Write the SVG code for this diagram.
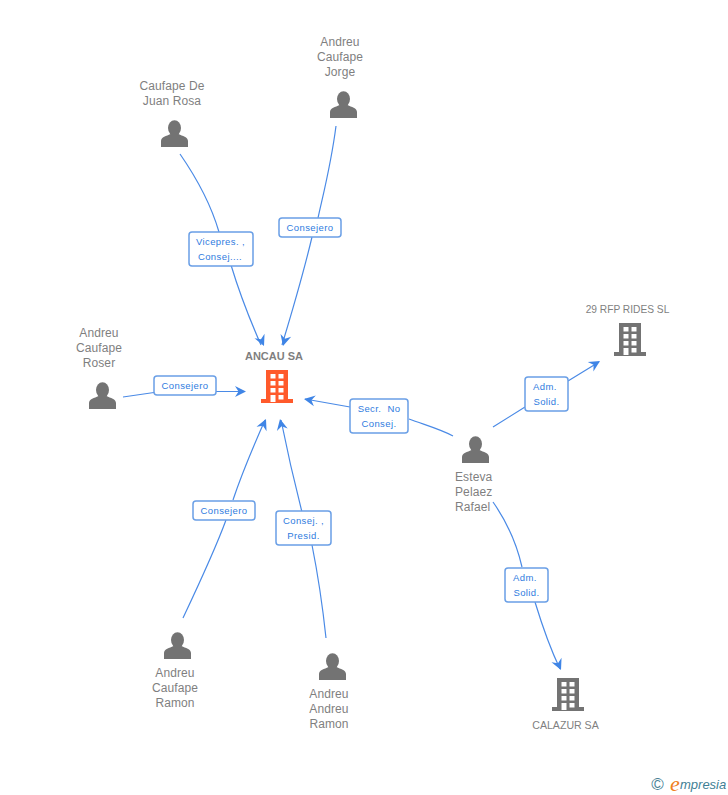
<svg xmlns="http://www.w3.org/2000/svg" width="728" height="795" viewBox="0 0 728 795">
<style>
text{font-family:"Liberation Sans",Arial,sans-serif}
.n{font-size:12px;fill:#7f7f7f;text-anchor:middle;letter-spacing:.1px}
.l{font-size:9.5px;fill:#2f7be0;text-anchor:middle;letter-spacing:.4px}
.b{fill:#fff;stroke:#6a9fe6;stroke-width:1.5}
.c{fill:none;stroke:#4a8ae6;stroke-width:1.2}
.a{fill:#3f85e6}
.g{fill:#737373}
</style>
<defs>
<g id="person"><ellipse cx="0" cy="-6" rx="6.500" ry="7.800"/><path d="M-13.500 13V7C-13.500 3-8 2-4 0V-3H4V0C8 2 13.500 3 13.500 7V13Z"/></g>
<path id="bld" fill-rule="evenodd" d="M-11-17H11V12H16V16H-16V12H-11ZM-6.500-13V-8.500H-1.500V-13ZM1.500-13V-8.500H6.500V-13ZM-6.500-6V-1.500H-1.500V-6ZM1.500-6V-1.500H6.500V-6ZM-6.500 1V5.500H-1.500V1ZM1.500 1V5.500H6.500V1ZM-6.500 8V15H-1.500V8ZM1.500 8V12.500H6.500V8Z"/>
<path id="ah" d="M0 0L-11-5.500L-7.500 0L-11 5.500Z"/>
</defs>
<g id="connectors">
<path class="c" d="M180 154C198 180 212 208 219 232M231 265C240 295 250 320 261 345"/>
<path class="c" d="M336 126C331 165 323 195 318 218M312 237C303 275 292 312 282 345"/>
<path class="c" d="M123 397L154 392.500M216 391.500L245 391.500"/>
<path class="c" d="M183 618C200 582 215 550 226 520M233 500C243 470 254 445 265 420"/>
<path class="c" d="M326 638C323 610 318 575 312 545M303 516C295 485 287 450 281 420"/>
<path class="c" d="M453 436C440 429 425 425 409 419M350 407L305 399"/>
<path class="c" d="M493 427L525 407M568 381L599 362"/>
<path class="c" d="M493 502C507 522 517 545 522 567M535 602C542 625 550 648 560 669"/>
<use href="#ah" class="a" transform="translate(264 346) rotate(66)"/>
<use href="#ah" class="a" transform="translate(283 346) rotate(105)"/>
<use href="#ah" class="a" transform="translate(246 391.500)"/>
<use href="#ah" class="a" transform="translate(266 419) rotate(-66)"/>
<use href="#ah" class="a" transform="translate(280 419) rotate(-102)"/>
<use href="#ah" class="a" transform="translate(304 399) rotate(190)"/>
<use href="#ah" class="a" transform="translate(600 361) rotate(-31)"/>
<use href="#ah" class="a" transform="translate(561 670) rotate(66)"/>
</g>
<g id="edge-labels">
<g><rect class="b" x="189" y="232" width="64" height="34" rx="3"/><text class="l" x="220.500" y="245">Vicepres. ,</text><text class="l" x="220" y="260">Consej....</text></g>
<g><rect class="b" x="279" y="218" width="62" height="19" rx="3"/><text class="l" x="310" y="231">Consejero</text></g>
<g><rect class="b" x="154" y="376" width="62" height="19" rx="3"/><text class="l" x="185" y="389">Consejero</text></g>
<g><rect class="b" x="193" y="501" width="62" height="19" rx="3"/><text class="l" x="224" y="514">Consejero</text></g>
<g><rect class="b" x="276" y="511" width="55" height="34" rx="3"/><text class="l" x="303.500" y="524">Consej. ,</text><text class="l" x="303.500" y="539">Presid.</text></g>
<g><rect class="b" x="350" y="399" width="58" height="34" rx="3"/><text class="l" x="379" y="412" xml:space="preserve">Secr.  No</text><text class="l" x="379" y="427">Consej.</text></g>
<g><rect class="b" x="525" y="377" width="43" height="34" rx="3"/><text class="l" x="545" y="390">Adm.</text><text class="l" x="546.500" y="405">Solid.</text></g>
<g><rect class="b" x="505" y="568" width="43" height="34" rx="3"/><text class="l" x="525" y="581">Adm.</text><text class="l" x="526.500" y="596">Solid.</text></g>
</g>
<g id="ancau"><text x="274" y="359.500" text-anchor="middle" font-size="11" font-weight="bold" fill="#7f7f7f">ANCAU SA</text><use href="#bld" fill="#ff5a2b" transform="translate(277 387)"/></g>
<g id="rides"><text class="n" x="627.500" y="313" style="font-size:10.200px;letter-spacing:0">29 RFP RIDES SL</text><use href="#bld" class="g" transform="translate(630 340)"/></g>
<g id="calazur"><text class="n" x="565.500" y="729" style="font-size:10.600px;letter-spacing:0">CALAZUR SA</text><use href="#bld" class="g" transform="translate(568 695)"/></g>
<g id="jorge"><text class="n" x="340" y="46">Andreu</text><text class="n" x="340" y="61">Caufape</text><text class="n" x="340" y="76">Jorge</text><use href="#person" class="g" transform="translate(343.500 105)"/></g>
<g id="rosa"><text class="n" x="172" y="90">Caufape De</text><text class="n" x="172" y="105">Juan Rosa</text><use href="#person" class="g" transform="translate(174.500 134)"/></g>
<g id="roser"><text class="n" x="99" y="337">Andreu</text><text class="n" x="99" y="352">Caufape</text><text class="n" x="99" y="367">Roser</text><use href="#person" class="g" transform="translate(102.500 396)"/></g>
<g id="esteva"><text class="n" x="455" y="481" style="text-anchor:start">Esteva</text><text class="n" x="455" y="496" style="text-anchor:start">Pelaez</text><text class="n" x="455" y="511" style="text-anchor:start">Rafael</text><use href="#person" class="g" transform="translate(475.500 450)"/></g>
<g id="aramon"><text class="n" x="175" y="677">Andreu</text><text class="n" x="175" y="692">Caufape</text><text class="n" x="175" y="707">Ramon</text><use href="#person" class="g" transform="translate(177.500 646)"/></g>
<g id="rramon"><text class="n" x="329" y="698">Andreu</text><text class="n" x="329" y="713">Andreu</text><text class="n" x="329" y="728">Ramon</text><use href="#person" class="g" transform="translate(332.500 667)"/></g>
<g id="brand"><text x="657.500" y="790" text-anchor="middle" font-size="17" fill="#4a7f95">©</text><text x="670" y="791" font-size="22" font-style="italic" fill="#f08020" style="font-family:'Liberation Serif',serif">e</text><text x="680" y="789" font-size="13" font-style="italic" fill="#3f7f95">mpresia</text></g>
</svg>
